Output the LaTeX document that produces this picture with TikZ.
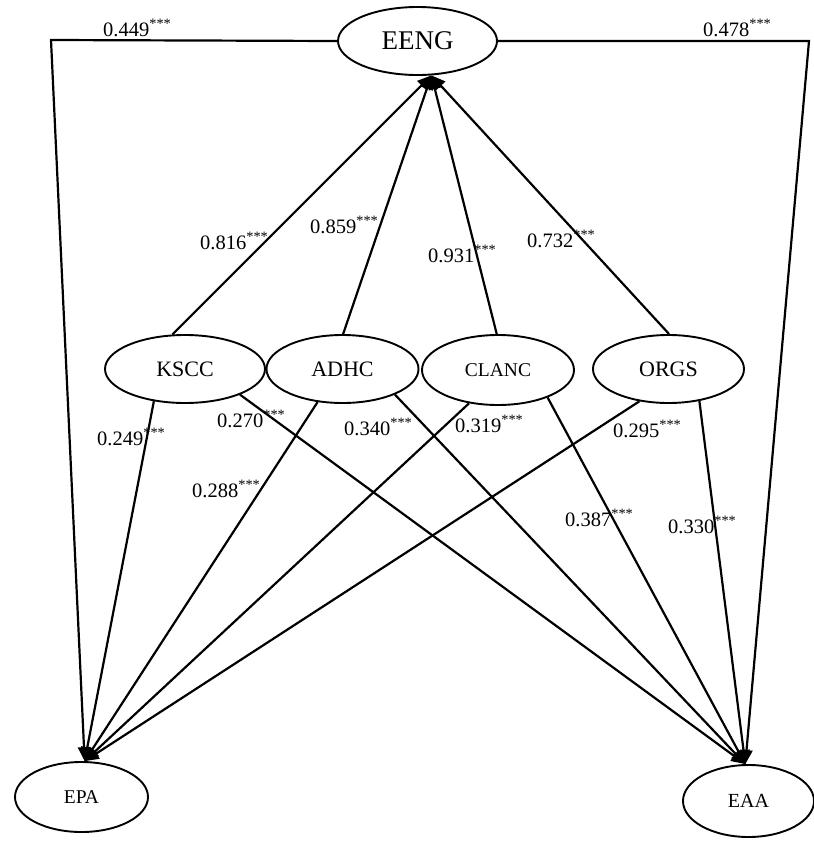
\documentclass[tikz,border=0pt]{standalone}
\usepackage{fontspec}
\setmainfont{Liberation Serif}
\usetikzlibrary{shapes.geometric,arrows.meta}
\begin{document}
\begin{tikzpicture}[x=1pt,y=-1pt,
  var/.style={ellipse,draw,line width=1.9pt,inner sep=0pt},
  path/.style={line width=2.2pt,-{Triangle[length=14pt,width=12pt]}},
  lbl/.style={anchor=base west,inner sep=0pt,font=\fontsize{20.5}{22}\selectfont}]
\useasboundingbox (0,0) rectangle (814,841);
\node[var,minimum width=159pt,minimum height=68pt,font=\fontsize{27}{30}\selectfont] (EENG) at (417.5,41) {EENG};
\node[var,minimum width=160pt,minimum height=68pt,font=\fontsize{22}{24}\selectfont] (KSCC) at (185,369) {KSCC};
\node[var,minimum width=152pt,minimum height=68pt,font=\fontsize{22}{24}\selectfont] (ADHC) at (342.5,369) {ADHC};
\node[var,minimum width=152pt,minimum height=70pt,font=\fontsize{19.5}{22}\selectfont] (CLANC) at (498,370) {CLANC};
\node[var,minimum width=151pt,minimum height=68pt,font=\fontsize{22}{24}\selectfont] (ORGS) at (668.5,369) {ORGS};
\node[var,minimum width=133pt,minimum height=70pt,font=\fontsize{19.5}{22}\selectfont] (EPA) at (81.5,797) {EPA};
\node[var,minimum width=131pt,minimum height=72pt,font=\fontsize{20}{22}\selectfont] (EAA) at (748.5,801) {EAA};
\coordinate (cl) at (51,40);
\coordinate (cr) at (809,41);
% EENG to outcomes
\draw[path] (EENG.west) -- (cl) -- (EPA.85);
\draw[path] (EENG.east) -- (cr) -- (EAA.95);
% dimensions to EENG
\draw[path] (KSCC.110) -- (EENG.292);
\draw[path] (ADHC.89) -- (EENG.292);
\draw[path] (CLANC.92) -- (EENG.292);
\draw[path] (ORGS.89) -- (EENG.292);
% dimensions to EPA
\draw[path] (KSCC.226.7) -- (EPA.85);
\draw[path] (ADHC.233) -- (EPA.85);
\draw[path] (CLANC.229.7) -- (EPA.85);
\draw[path] (ORGS.228) -- (EPA.85);
% dimensions to EAA
\draw[path] (KSCC.335.5) -- (EAA.95);
\draw[path] (ADHC.334.5) -- (EAA.95);
\draw[path] (CLANC.331.6) -- (EAA.95);
\draw[path] (ORGS.314.6) -- (EAA.95);
% labels
\node[lbl] (l1) at (103,36) {0.449\textsuperscript{***}};
\node[lbl] (l2) at (703,36) {0.478\textsuperscript{***}};
\node[lbl] (l3) at (200,249) {0.816\textsuperscript{***}};
\node[lbl] (l4) at (310,233) {0.859\textsuperscript{***}};
\node[lbl] (l5) at (428,262) {0.931\textsuperscript{***}};
\node[lbl] (l6) at (527,247) {0.732\textsuperscript{***}};
\node[lbl] (l7) at (97,445) {0.249\textsuperscript{***}};
\node[lbl] (l8) at (217,427) {0.270\textsuperscript{***}};
\node[lbl] (l9) at (344,435) {0.340\textsuperscript{***}};
\node[lbl] (l10) at (455,432) {0.319\textsuperscript{***}};
\node[lbl] (l11) at (613,437) {0.295\textsuperscript{***}};
\node[lbl] (l12) at (192,497) {0.288\textsuperscript{***}};
\node[lbl] (l13) at (565,526) {0.387\textsuperscript{***}};
\node[lbl] (l14) at (668,533) {0.330\textsuperscript{***}};
\end{tikzpicture}
\end{document}
